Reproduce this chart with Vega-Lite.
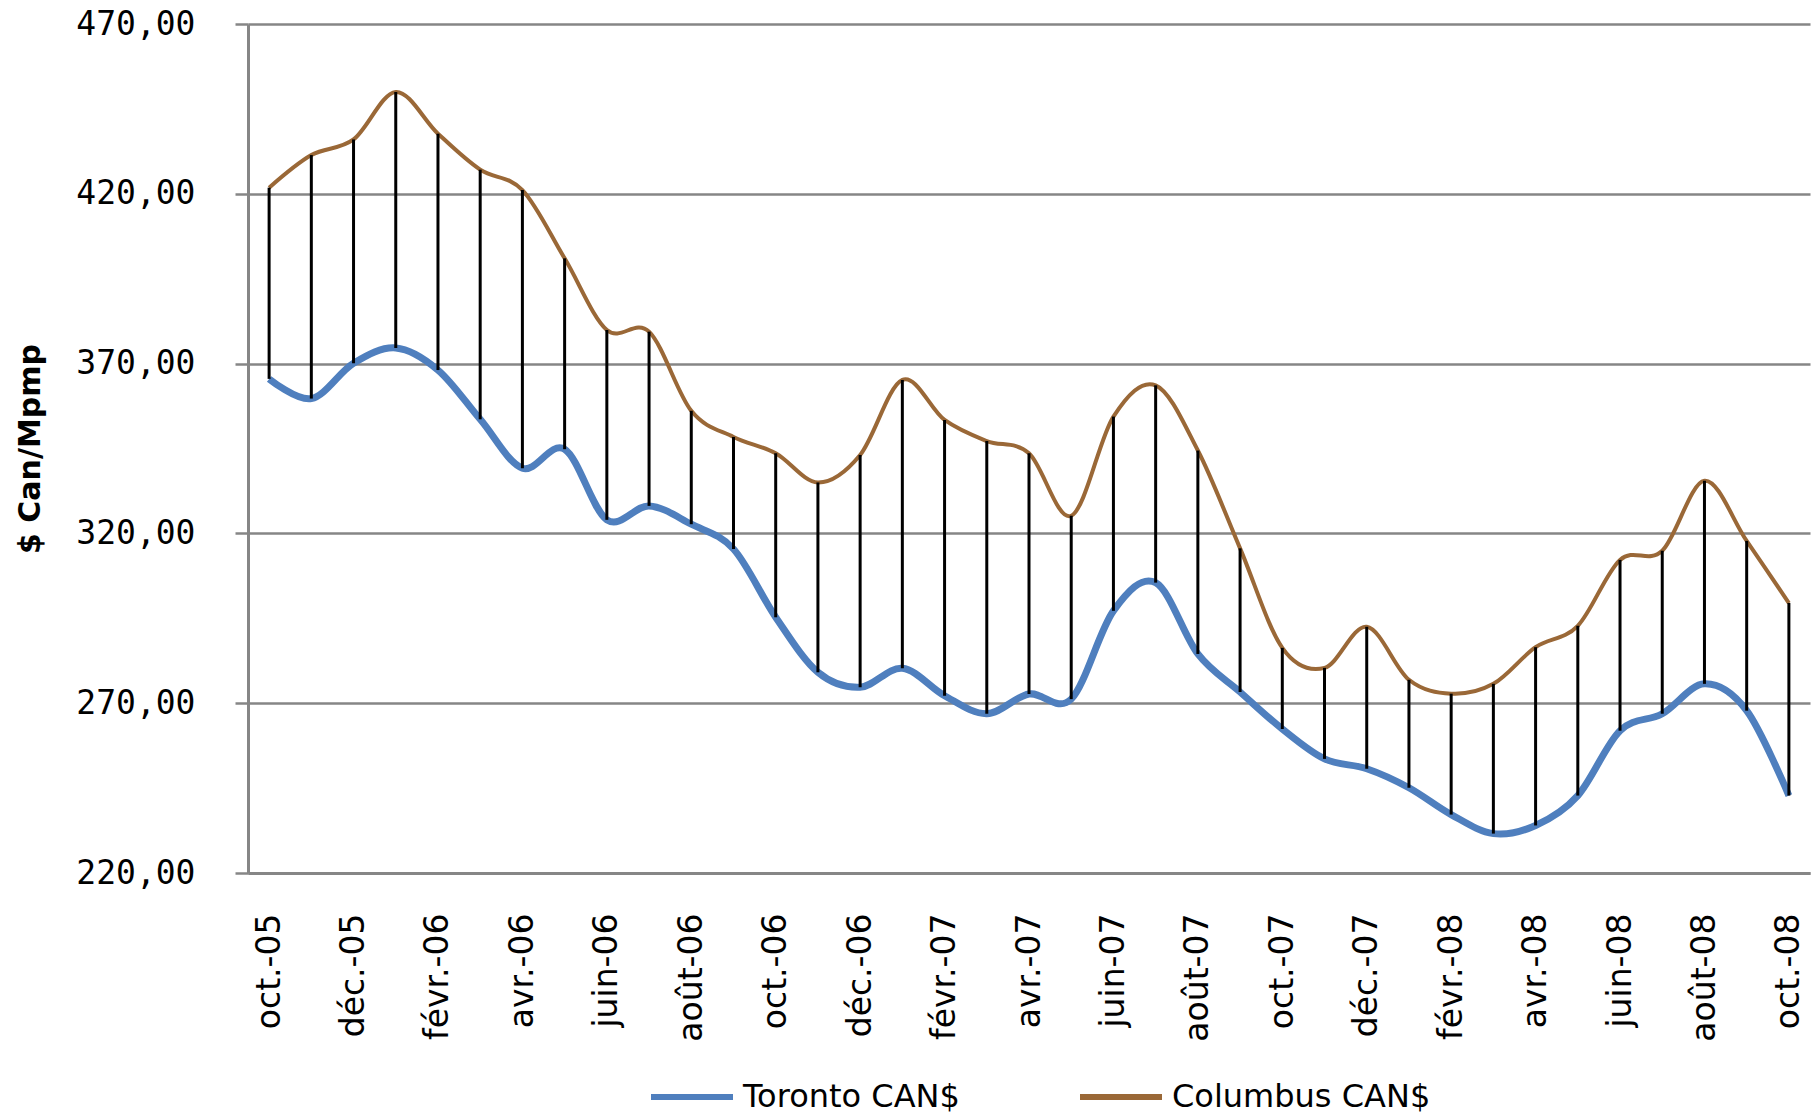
{
  "$schema": "https://vega.github.io/schema/vega-lite/v6.json",
  "autosize": {"type": "none"},
  "width": 1562,
  "height": 849,
  "padding": {"left": 248, "top": 24, "right": 5, "bottom": 243},
  "background": "white",
  "config": {
    "view": {"stroke": null},
    "font": "DejaVu Sans"
  },
  "data": {
    "values": [
      {"mois": "oct.-05", "Toronto CAN$": 365.5, "Columbus CAN$": 421.8},
      {"mois": "nov.-05", "Toronto CAN$": 359.7, "Columbus CAN$": 431.4},
      {"mois": "déc.-05", "Toronto CAN$": 370.1, "Columbus CAN$": 436.0},
      {"mois": "janv.-06", "Toronto CAN$": 374.6, "Columbus CAN$": 450.0},
      {"mois": "févr.-06", "Toronto CAN$": 368.1, "Columbus CAN$": 437.7},
      {"mois": "mars-06", "Toronto CAN$": 353.6, "Columbus CAN$": 427.1},
      {"mois": "avr.-06", "Toronto CAN$": 339.2, "Columbus CAN$": 421.1},
      {"mois": "mai-06", "Toronto CAN$": 344.8, "Columbus CAN$": 401.0},
      {"mois": "juin-06", "Toronto CAN$": 324.0, "Columbus CAN$": 379.9},
      {"mois": "juil.-06", "Toronto CAN$": 328.1, "Columbus CAN$": 379.4},
      {"mois": "août-06", "Toronto CAN$": 322.7, "Columbus CAN$": 356.1},
      {"mois": "sept.-06", "Toronto CAN$": 315.4, "Columbus CAN$": 348.4},
      {"mois": "oct.-06", "Toronto CAN$": 295.3, "Columbus CAN$": 343.6},
      {"mois": "nov.-06", "Toronto CAN$": 279.1, "Columbus CAN$": 335.0},
      {"mois": "déc.-06", "Toronto CAN$": 274.7, "Columbus CAN$": 343.1},
      {"mois": "janv.-07", "Toronto CAN$": 280.3, "Columbus CAN$": 365.2},
      {"mois": "févr.-07", "Toronto CAN$": 272.2, "Columbus CAN$": 353.4},
      {"mois": "mars-07", "Toronto CAN$": 266.9, "Columbus CAN$": 347.2},
      {"mois": "avr.-07", "Toronto CAN$": 272.7, "Columbus CAN$": 343.6},
      {"mois": "mai-07", "Toronto CAN$": 271.2, "Columbus CAN$": 325.2},
      {"mois": "juin-07", "Toronto CAN$": 297.2, "Columbus CAN$": 354.4},
      {"mois": "juil.-07", "Toronto CAN$": 305.5, "Columbus CAN$": 363.6},
      {"mois": "août-07", "Toronto CAN$": 284.5, "Columbus CAN$": 344.4},
      {"mois": "sept.-07", "Toronto CAN$": 273.3, "Columbus CAN$": 315.6},
      {"mois": "oct.-07", "Toronto CAN$": 262.4, "Columbus CAN$": 286.3},
      {"mois": "nov.-07", "Toronto CAN$": 253.6, "Columbus CAN$": 280.4},
      {"mois": "déc.-07", "Toronto CAN$": 250.7, "Columbus CAN$": 292.5},
      {"mois": "janv.-08", "Toronto CAN$": 245.1, "Columbus CAN$": 276.9},
      {"mois": "févr.-08", "Toronto CAN$": 237.2, "Columbus CAN$": 272.8},
      {"mois": "mars-08", "Toronto CAN$": 231.6, "Columbus CAN$": 275.7},
      {"mois": "avr.-08", "Toronto CAN$": 234.0, "Columbus CAN$": 286.5},
      {"mois": "mai-08", "Toronto CAN$": 242.8, "Columbus CAN$": 292.8},
      {"mois": "juin-08", "Toronto CAN$": 261.9, "Columbus CAN$": 312.2},
      {"mois": "juil.-08", "Toronto CAN$": 266.9, "Columbus CAN$": 314.9},
      {"mois": "août-08", "Toronto CAN$": 275.7, "Columbus CAN$": 335.5},
      {"mois": "sept.-08", "Toronto CAN$": 267.8, "Columbus CAN$": 317.8},
      {"mois": "oct.-08", "Toronto CAN$": 242.8, "Columbus CAN$": 299.5}
    ]
  },
  "encoding": {
    "x": {
      "field": "mois",
      "type": "ordinal",
      "sort": null,
      "scale": {"type": "point", "padding": 0.5},
      "axis": {
        "title": null,
        "values": ["oct.-05", "déc.-05", "févr.-06", "avr.-06", "juin-06", "août-06", "oct.-06", "déc.-06", "févr.-07", "avr.-07", "juin-07", "août-07", "oct.-07", "déc.-07", "févr.-08", "avr.-08", "juin-08", "août-08", "oct.-08"],
        "labelAngle": -90,
        "labelFontSize": 33,
        "labelFont": "DejaVu Sans",
        "labelColor": "#000000",
        "labelPadding": 40,
        "ticks": false,
        "tickSize": 0,
        "domainColor": "#868686",
        "domainWidth": 3,
        "grid": false,
        "labelOverlap": false
      }
    },
    "y": {
      "field": "prix",
      "type": "quantitative",
      "scale": {"domain": [220, 470], "nice": false, "zero": false},
      "axis": {
        "title": "$ Can/Mpmp",
        "titleFont": "DejaVu Sans",
        "titleFontSize": 30,
        "titleFontWeight": "bold",
        "titleColor": "#000000",
        "titlePadding": 30,
        "values": [220, 270, 320, 370, 420, 470],
        "labelExpr": "replace(format(datum.value, '.2f'), '.', ',')",
        "labelFontSize": 33,
        "labelFont": "DejaVu Sans Mono",
        "labelColor": "#000000",
        "labelPadding": 40,
        "tickSize": 13,
        "tickWidth": 2.5,
        "tickColor": "#868686",
        "domainColor": "#868686",
        "domainWidth": 3,
        "grid": true,
        "gridColor": "#868686",
        "gridWidth": 2.5
      }
    },
    "color": {
      "field": "serie",
      "type": "nominal",
      "sort": ["Toronto CAN$", "Columbus CAN$"],
      "scale": {"domain": ["Toronto CAN$", "Columbus CAN$"], "range": ["#4F7FBE", "#9A6837"]},
      "legend": {
        "title": null,
        "orient": "none",
        "legendX": 400,
        "legendY": 1029,
        "padding": 0,
        "direction": "horizontal",
        "symbolType": "stroke",
        "symbolSize": 6724,
        "symbolStrokeWidth": 6,
        "labelFontSize": 32,
        "labelFont": "DejaVu Sans",
        "labelColor": "#000000",
        "labelOffset": 7,
        "columnPadding": 108,
        "labelLimit": 400
      }
    }
  },
  "layer": [
    {
      "transform": [
        {"fold": ["Toronto CAN$", "Columbus CAN$"], "as": ["serie", "prix"]},
        {"filter": "datum.serie === 'Toronto CAN$'"}
      ],
      "mark": {"type": "line", "interpolate": "cardinal", "tension": 0, "strokeWidth": 7}
    },
    {
      "transform": [
        {"fold": ["Toronto CAN$", "Columbus CAN$"], "as": ["serie", "prix"]},
        {"filter": "datum.serie === 'Columbus CAN$'"}
      ],
      "mark": {"type": "line", "interpolate": "cardinal", "tension": 0, "strokeWidth": 4}
    },
    {
      "mark": {"type": "rule", "color": "#000000", "strokeWidth": 3},
      "encoding": {
        "y": {"field": "Toronto CAN$", "type": "quantitative"},
        "y2": {"field": "Columbus CAN$"},
        "color": null
      }
    }
  ]
}
